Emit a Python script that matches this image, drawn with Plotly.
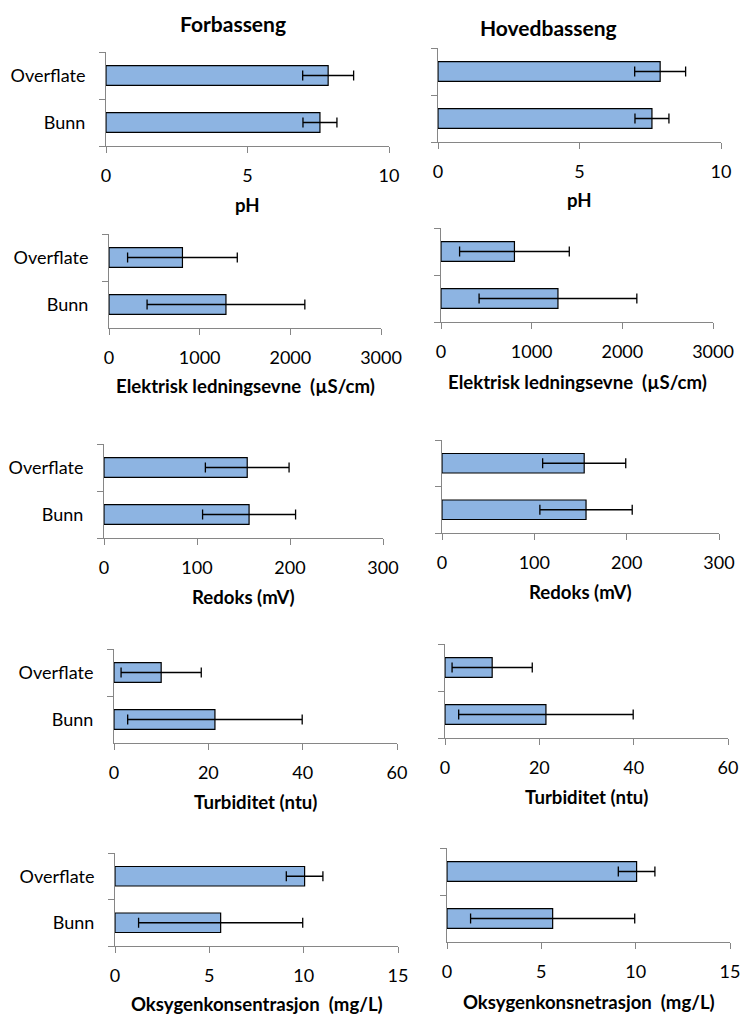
import plotly.graph_objects as go

W, H = 741, 1014
FONT = "Lato"

categories = ["Bunn", "Overflate"]

ph_mean = [7.56, 7.85]
ph_err = [0.60, 0.90]
ec_mean = [1290, 810]
ec_err = [870, 605]
redoks_mean = [156, 154]
redoks_err = [50, 45]
turb_mean = [21.4, 10.0]
turb_err = [18.5, 8.5]
oxy_mean = [5.6, 10.05]
oxy_err = [4.35, 0.97]

col_titles = ["Forbasseng", "Hovedbasseng"]
axis_titles_left = ["pH", "Elektrisk ledningsevne  (µS/cm)", "Redoks (mV)",
                    "Turbiditet (ntu)", "Oksygenkonsentrasjon  (mg/L)"]
axis_titles_right = ["pH", "Elektrisk ledningsevne  (µS/cm)", "Redoks (mV)",
                     "Turbiditet (ntu)", "Oksygenkonsnetrasjon  (mg/L)"]
x_max = [10, 3000, 300, 60, 15]
x_dtick = [5, 1000, 100, 20, 5]
means = [ph_mean, ec_mean, redoks_mean, turb_mean, oxy_mean]
errs = [ph_err, ec_err, redoks_err, turb_err, oxy_err]

# panel pixel boxes: (x0, x1, ytop, ybottom, title_y)
boxes_left = [(106, 389, 52, 146, 205), (109, 381, 234, 328, 386),
              (104, 383, 444, 538, 597), (114, 397, 649, 743, 802),
              (115, 398, 853, 946, 1004)]
boxes_right = [(438, 721, 48, 142, 200), (441, 713, 228, 322, 382),
               (442, 719, 440, 533, 592), (445, 728, 644, 738, 797),
               (447, 730, 848, 942, 1002)]

fig = go.Figure()
layout = {}
annotations = []
AXC = "#868686"
idx = 0
for col in range(2):
    boxes = boxes_left if col == 0 else boxes_right
    titles = axis_titles_left if col == 0 else axis_titles_right
    for r in range(5):
        idx += 1
        x0, x1, yt, yb, ty = boxes[r]
        sfx = "" if idx == 1 else str(idx)
        fig.add_trace(go.Bar(
            y=categories, x=means[r], orientation="h", width=0.42,
            marker=dict(color="#8DB4E2", line=dict(color="black", width=1.2)),
            error_x=dict(type="data", array=errs[r], color="black",
                         thickness=1.3, width=5),
            xaxis="x" + sfx, yaxis="y" + sfx, showlegend=False,
        ))
        layout["xaxis" + sfx] = dict(
            domain=[x0 / W, x1 / W], anchor="y" + sfx,
            range=[0, x_max[r]], dtick=x_dtick[r], tick0=0,
            showgrid=False, zeroline=False, showline=True, linecolor=AXC,
            linewidth=1, ticks="outside", ticklen=6, tickcolor=AXC,
            tickfont=dict(family=FONT, size=18, color="black"),
            ticklabelstandoff=7, automargin=False,
        )
        layout["yaxis" + sfx] = dict(
            domain=[1 - yb / H, 1 - yt / H], anchor="x" + sfx,
            type="category", range=[-0.5, 1.5], tickson="boundaries",
            showgrid=False, zeroline=False, showline=True, linecolor=AXC,
            linewidth=1, ticks="outside", ticklen=6, tickcolor=AXC,
            showticklabels=(col == 0),
            tickfont=dict(family=FONT, size=18, color="black"),
            ticklabelstandoff=16, automargin=False,
        )
        annotations.append(dict(
            text="<b>" + titles[r] + "</b>", x=(x0 + x1) / 2 / W, y=1 - ty / H,
            xref="paper", yref="paper", showarrow=False,
            xanchor="center", yanchor="middle",
            font=dict(family=FONT, size=18.6, color="black"),
        ))

annotations.append(dict(text="<b>Forbasseng</b>", x=233 / W, y=1 - 23 / H,
                        xref="paper", yref="paper", showarrow=False,
                        xanchor="center", yanchor="middle",
                        font=dict(family=FONT, size=21, color="black")))
annotations.append(dict(text="<b>Hovedbasseng</b>", x=548 / W, y=1 - 27 / H,
                        xref="paper", yref="paper", showarrow=False,
                        xanchor="center", yanchor="middle",
                        font=dict(family=FONT, size=21, color="black")))

fig.update_layout(
    width=W, height=H, autosize=False,
    margin=dict(l=0, r=0, t=0, b=0, pad=0, autoexpand=False),
    paper_bgcolor="white", plot_bgcolor="white",
    annotations=annotations, font=dict(family=FONT), **layout,
)
fig.write_html(
    "out.html",
    config={"displayModeBar": False, "responsive": False},
    post_script=(
        "document.documentElement.style.margin='0';"
        "document.documentElement.style.overflow='hidden';"
        "document.body.style.margin='0';"
        "document.body.style.padding='0';"
        "document.body.style.overflow='hidden';"
    ),
)
